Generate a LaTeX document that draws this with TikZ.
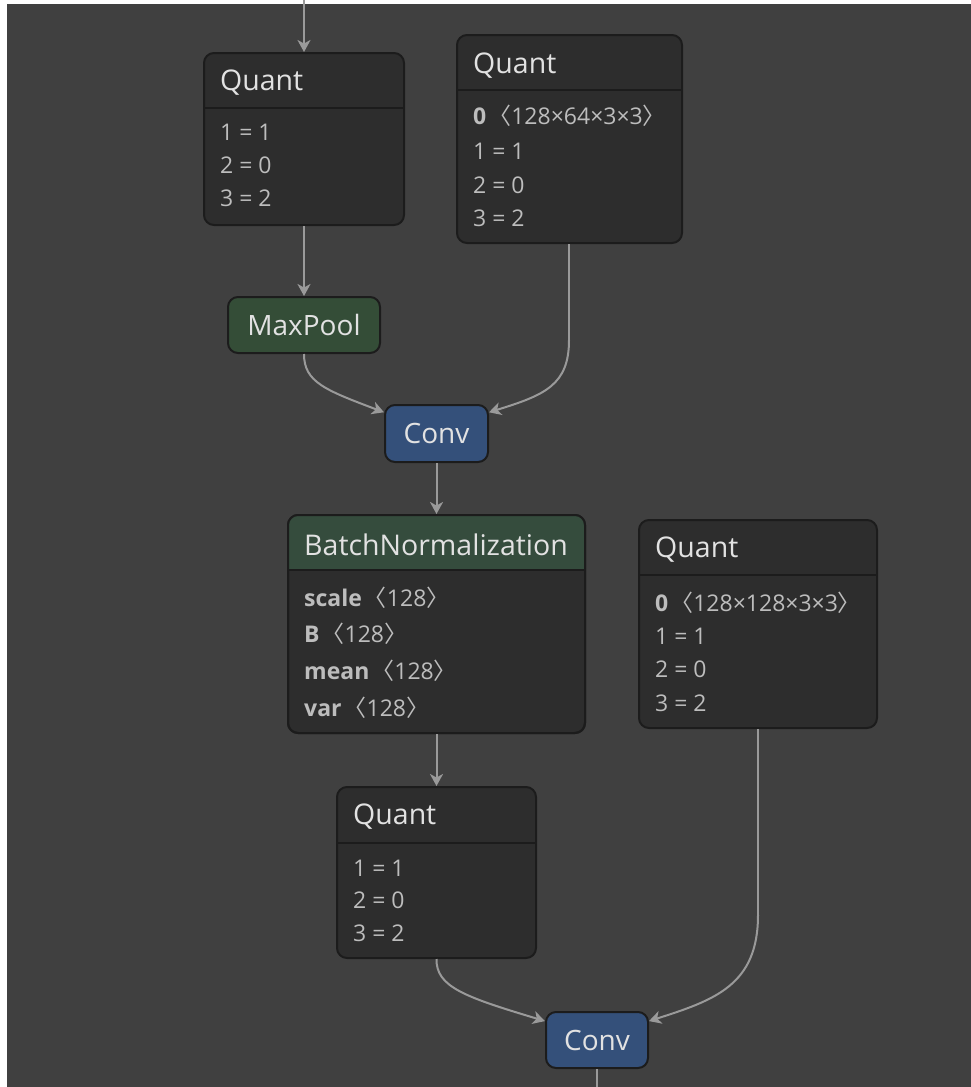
\documentclass[tikz,border=0pt]{standalone}
\usepackage{fontspec}
\setmainfont{Open Sans}
\newfontfamily\cjk{Noto Sans CJK SC}
\usetikzlibrary{arrows.meta}
\definecolor{bg}{HTML}{404040}
\definecolor{body}{HTML}{2D2D2D}
\definecolor{rim}{HTML}{1C1C1C}
\definecolor{opgreen}{HTML}{344D37}
\definecolor{bngreen}{HTML}{354C3D}
\definecolor{opblue}{HTML}{34507A}
\definecolor{titlecol}{HTML}{E2E2E2}
\definecolor{attrcol}{HTML}{BDBDBD}
\definecolor{edgecol}{HTML}{9A9A9A}
\tikzset{
  nodebox/.style={rectangle, draw=rim, line width=2pt, fill=body, rounded corners=10pt, inner sep=0pt},
  opbox/.style={rectangle, draw=rim, line width=2pt, rounded corners=10pt, inner sep=0pt, text=titlecol, font=\fontsize{28}{31}\selectfont},
  sepline/.style={draw=rim, line width=2pt},
  ttl/.style={anchor=west, inner sep=0pt, text=titlecol, font=\fontsize{28.5}{31}\selectfont},
  attr/.style={anchor=west, inner sep=0pt, text=attrcol, font=\fontsize{23}{26}\selectfont},
  edge/.style={draw=edgecol, line width=2pt, -{Stealth[length=12pt,width=13pt,inset=3.5pt]}},
  plainedge/.style={draw=edgecol, line width=2pt}
}
\newcommand{\lb}{\hspace{2pt}{\cjk 〈}}
\newcommand{\rb}{{\cjk 〉}}
\begin{document}
\begin{tikzpicture}[x=1pt,y=-1pt]
\useasboundingbox (0,0) rectangle (971,1087);
\fill[white] (0,0) rectangle (971,1087);
\fill[bg] (7,4) rectangle (971,1087);

% Quant 1
\node[nodebox, minimum width=200pt, minimum height=172pt] (q1) at (304,139) {};
\draw[sepline] (204,108) -- (404,108);
\node[ttl] (q1t) at (220,83) {Quant};
\node[attr] (q1a) at (220,132) {1 = 1};
\node[attr] (q1b) at (220,165) {2 = 0};
\node[attr] (q1c) at (220,198) {3 = 2};

% Quant 2
\node[nodebox, minimum width=225pt, minimum height=208pt] (q2) at (569.5,139) {};
\draw[sepline] (457,90) -- (682,90);
\node[ttl] (q2t) at (473,66) {Quant};
\node[attr] (q2a) at (473,116) {\textbf{0}\lb128×64×3×3\rb};
\node[attr] (q2b) at (473,151) {1 = 1};
\node[attr] (q2c) at (473,185) {2 = 0};
\node[attr] (q2d) at (473,218) {3 = 2};

% MaxPool
\node[opbox, fill=opgreen, minimum width=152pt, minimum height=56pt] (mp) at (304,325) {MaxPool};

% Conv 1
\node[opbox, fill=opblue, minimum width=103pt, minimum height=57pt] (c1) at (436.5,433.5) {Conv};

% BatchNormalization
\node[nodebox, minimum width=297pt, minimum height=218pt] (bn) at (436.5,624) {};
\begin{scope}
  \clip[rounded corners=10pt] (288,515) rectangle (585,733);
  \fill[bngreen] (288,515) rectangle (585,569);
\end{scope}
\draw[draw=rim, line width=2pt, rounded corners=10pt] (288,515) rectangle (585,733);
\draw[sepline] (288,570) -- (585,570);
\node[ttl] (bnt) at (304,545) {BatchNormalization};
\node[attr] (bna) at (304,598) {\textbf{scale}\lb128\rb};
\node[attr] (bnb) at (304,634) {\textbf{B}\lb128\rb};
\node[attr] (bnc) at (304,671) {\textbf{mean}\lb128\rb};
\node[attr] (bnd) at (304,708) {\textbf{var}\lb128\rb};

% Quant 3
\node[nodebox, minimum width=238pt, minimum height=208pt] (q3) at (758,624) {};
\draw[sepline] (639,575) -- (877,575);
\node[ttl] (q3t) at (655,550) {Quant};
\node[attr] (q3a) at (655,603) {\textbf{0}\lb128×128×3×3\rb};
\node[attr] (q3b) at (655,636) {1 = 1};
\node[attr] (q3c) at (655,669) {2 = 0};
\node[attr] (q3d) at (655,703) {3 = 2};

% Quant 4
\node[nodebox, minimum width=199pt, minimum height=171pt] (q4) at (436.5,872.5) {};
\draw[sepline] (337,843) -- (536,843);
\node[ttl] (q4t) at (353,817) {Quant};
\node[attr] (q4a) at (353,868) {1 = 1};
\node[attr] (q4b) at (353,900) {2 = 0};
\node[attr] (q4c) at (353,933) {3 = 2};

% Conv 2
\node[opbox, fill=opblue, minimum width=102pt, minimum height=56pt] (c2) at (597,1040) {Conv};

% connectors
\coordinate (topin) at (304,0);
\coordinate (botout) at (597,1087);
\coordinate (q2bend) at (569,340);
\coordinate (q3bend) at (758,915);
\draw[edge] (topin) -- (q1.north);
\draw[edge] (q1.south) -- (mp.north);
\draw[edge] (mp.south) .. controls (304,382) and (325,390) .. (c1.158);
\draw[plainedge] (q2.south -| q2bend) -- (q2bend);
\draw[edge] (q2bend) .. controls (569,385) and (545,395) .. (c1.22);
\draw[edge] (c1.south) -- (bn.north);
\draw[edge] (bn.south) -- (q4.north);
\draw[edge] (q4.south) .. controls (436,987) and (465,997) .. (c2.160);
\draw[plainedge] (q3.south) -- (q3bend);
\draw[edge] (q3bend) .. controls (758,985) and (715,1000) .. (c2.20);
\draw[plainedge] (c2.south) -- (botout);
\end{tikzpicture}
\end{document}
